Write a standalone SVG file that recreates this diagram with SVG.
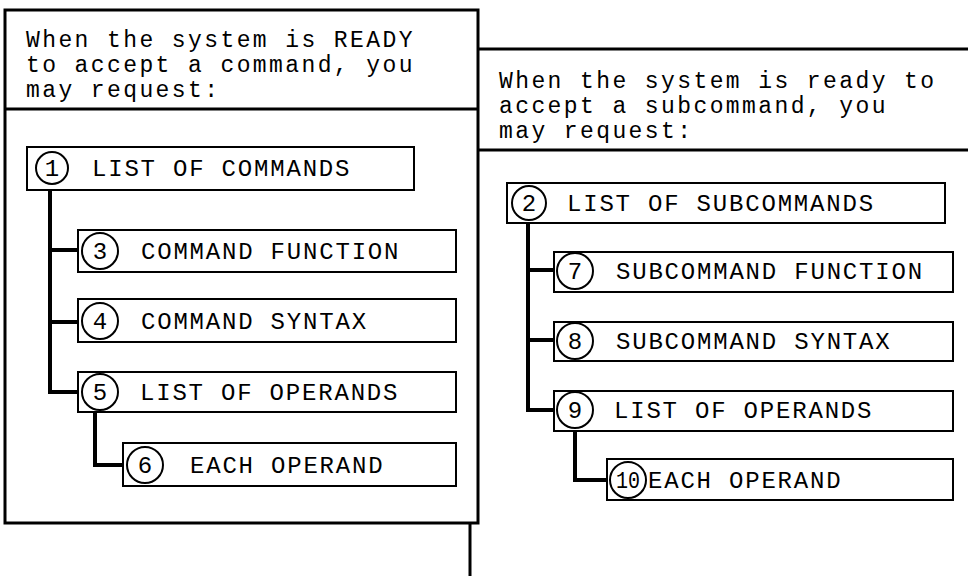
<svg xmlns="http://www.w3.org/2000/svg" width="968" height="576" viewBox="0 0 968 576">
<style>
  .frame { fill: none; stroke: #000; stroke-width: 3; }
  .box { fill: #fff; stroke: #000; stroke-width: 2; }
  .num { fill: #fff; stroke: #000; stroke-width: 2; }
  .conn { fill: none; stroke: #000; stroke-width: 4; }
  text { font-family: "Liberation Mono", "Courier New", monospace; fill: #000; }
  .hdr { font-size: 23px; letter-spacing: 2.4px; }
  .lbl { font-size: 24px; letter-spacing: 1.8px; }
  .n { font-size: 24px; text-anchor: middle; }
</style>
<rect width="968" height="576" fill="#fff"/>
<g id="frames">
  <rect class="frame" x="5" y="10" width="473" height="513"/>
  <line class="frame" x1="5" y1="109" x2="478" y2="109"/>
  <line class="frame" x1="478" y1="49" x2="968" y2="49"/>
  <line class="frame" x1="478" y1="150" x2="968" y2="150"/>
  <line class="frame" x1="470" y1="523" x2="470" y2="576"/>
</g>
<g id="header-left">
  <text class="hdr" x="26" y="47">When the system is READY</text>
  <text class="hdr" x="26" y="72">to accept a command, you</text>
  <text class="hdr" x="26" y="97">may request:</text>
</g>
<g id="header-right">
  <text class="hdr" x="499" y="88">When the system is ready to</text>
  <text class="hdr" x="499" y="113">accept a subcommand, you</text>
  <text class="hdr" x="499" y="138">may request:</text>
</g>
<g id="connectors">
  <polyline class="conn" points="50,190 50,392 80,392"/>
  <line class="conn" x1="50" y1="250" x2="80" y2="250"/>
  <line class="conn" x1="50" y1="322" x2="80" y2="322"/>
  <polyline class="conn" points="95,412 95,465 125,465"/>
  <polyline class="conn" points="528,223 528,410 556,410"/>
  <line class="conn" x1="528" y1="270" x2="556" y2="270"/>
  <line class="conn" x1="528" y1="340" x2="556" y2="340"/>
  <polyline class="conn" points="575,431 575,480 609,480"/>
</g>
<g id="node1">
  <rect class="box" x="27" y="147" width="387" height="43"/>
  <circle class="num" cx="52" cy="168" r="16"/>
  <text class="n" x="52" y="176">1</text>
  <text class="lbl" x="92" y="176">LIST OF COMMANDS</text>
</g>
<g id="node3">
  <rect class="box" x="78" y="230" width="378" height="42"/>
  <circle class="num" cx="100" cy="251" r="18"/>
  <text class="n" x="100" y="259">3</text>
  <text class="lbl" x="141" y="259">COMMAND FUNCTION</text>
</g>
<g id="node4">
  <rect class="box" x="78" y="299" width="378" height="43"/>
  <circle class="num" cx="100" cy="321" r="18"/>
  <text class="n" x="100" y="329">4</text>
  <text class="lbl" x="141" y="329">COMMAND SYNTAX</text>
</g>
<g id="node5">
  <rect class="box" x="78" y="372" width="378" height="40"/>
  <circle class="num" cx="100" cy="392" r="18"/>
  <text class="n" x="100" y="400">5</text>
  <text class="lbl" x="140" y="400">LIST OF OPERANDS</text>
</g>
<g id="node6">
  <rect class="box" x="123" y="443" width="333" height="43"/>
  <circle class="num" cx="145" cy="465" r="18"/>
  <text class="n" x="145" y="473">6</text>
  <text class="lbl" x="190" y="473">EACH OPERAND</text>
</g>
<g id="node2">
  <rect class="box" x="507" y="183" width="438" height="40"/>
  <circle class="num" cx="529" cy="203" r="17"/>
  <text class="n" x="529" y="211">2</text>
  <text class="lbl" x="567" y="211">LIST OF SUBCOMMANDS</text>
</g>
<g id="node7">
  <rect class="box" x="554" y="252" width="399" height="40"/>
  <circle class="num" cx="575" cy="271" r="18"/>
  <text class="n" x="575" y="279">7</text>
  <text class="lbl" x="616" y="279">SUBCOMMAND FUNCTION</text>
</g>
<g id="node8">
  <rect class="box" x="554" y="322" width="399" height="39"/>
  <circle class="num" cx="575" cy="341" r="18"/>
  <text class="n" x="575" y="349">8</text>
  <text class="lbl" x="616" y="349">SUBCOMMAND SYNTAX</text>
</g>
<g id="node9">
  <rect class="box" x="554" y="391" width="399" height="40"/>
  <circle class="num" cx="575" cy="410" r="18"/>
  <text class="n" x="575" y="418">9</text>
  <text class="lbl" x="614" y="418">LIST OF OPERANDS</text>
</g>
<g id="node10">
  <rect class="box" x="607" y="459" width="346" height="41"/>
  <circle class="num" cx="628" cy="480" r="18"/>
  <text class="n" x="628" y="488" textLength="24" lengthAdjust="spacingAndGlyphs">10</text>
  <text class="lbl" x="648" y="488">EACH OPERAND</text>
</g>
</svg>
